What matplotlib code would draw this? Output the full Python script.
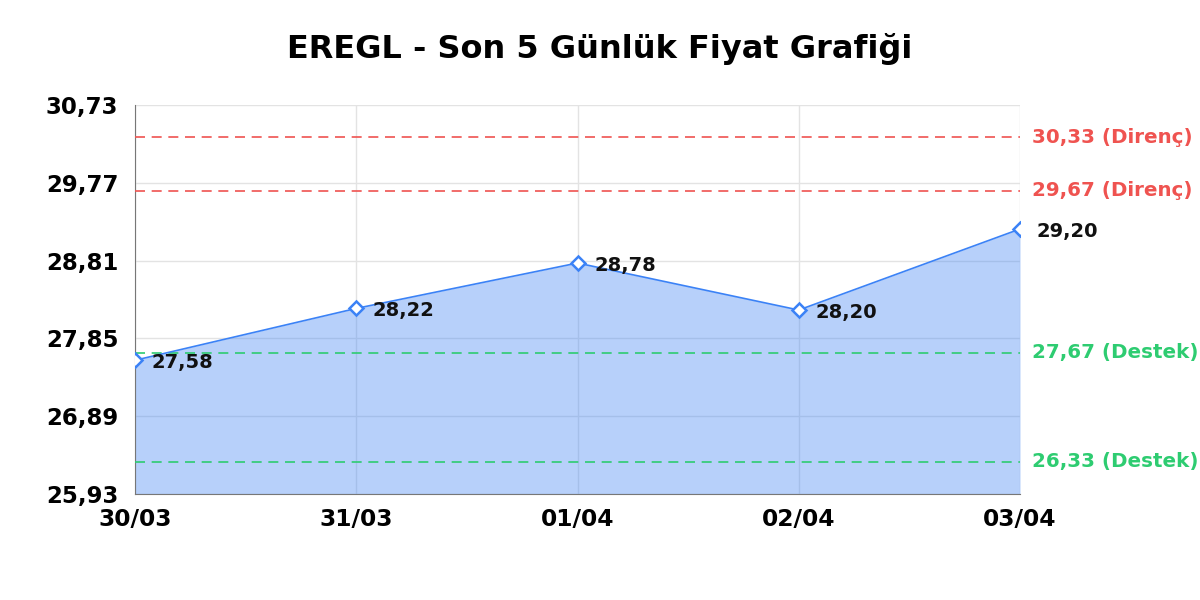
import os
import matplotlib
matplotlib.use("Agg")
import matplotlib.pyplot as plt
from matplotlib import font_manager
import numpy as np

bold_path = os.path.join(matplotlib.get_data_path(), "fonts", "ttf", "DejaVuSans-Bold.ttf")
font_manager.fontManager.addfont(bold_path)
plt.rcParams["font.family"] = ["DejaVu Sans"]

def fp(size):
    return font_manager.FontProperties(fname=bold_path, size=size)

# --- DATA ---
dates = ["30/03", "31/03", "01/04", "02/04", "03/04"]
prices = [27.58, 28.22, 28.78, 28.20, 29.20]
resistance = [30.33, 29.67]
support = [27.67, 26.33]
y_ticks = [25.93, 26.89, 27.85, 28.81, 29.77, 30.73]

BLUE = "#3b82f6"
RED = "#ef5350"
GREEN = "#2ecc71"

fig = plt.figure(figsize=(12, 6), dpi=100)
ax = fig.add_axes([0.1125, 0.1767, 0.7375, 0.6483])

x = np.arange(len(dates))

ax.fill_between(x, prices, y_ticks[0], color="#4285f4", alpha=0.38, lw=0, zorder=2)
ax.plot(x, prices, color=BLUE, lw=1.2, zorder=4)
ax.plot(x, prices, ls="none", marker="D", ms=7, mfc="white", mec=BLUE, mew=1.8, zorder=5)

for xi, p in zip(x, prices):
    ax.annotate(f"{p:.2f}".replace(".", ","), (xi, p), xytext=(12, -1.5),
                textcoords="offset points", ha="left", va="center",
                fontproperties=fp(14), color="#111111", zorder=6)

for lvl in resistance:
    ax.axhline(lvl, color=RED, ls=(0, (6, 4)), lw=1.2, zorder=3)
    ax.text(1.013, lvl, f"{lvl:.2f} (Direnç)".replace(".", ","), transform=ax.get_yaxis_transform(),
            ha="left", va="center", color=RED, fontproperties=fp(14.3))
for lvl in support:
    ax.axhline(lvl, color=GREEN, ls=(0, (6, 4)), lw=1.2, zorder=3)
    ax.text(1.013, lvl, f"{lvl:.2f} (Destek)".replace(".", ","), transform=ax.get_yaxis_transform(),
            ha="left", va="center", color=GREEN, fontproperties=fp(14.3))

ax.set_xlim(0, len(dates) - 1)
ax.set_ylim(y_ticks[0], y_ticks[-1])
ax.set_xticks(x)
ax.set_xticklabels(dates, fontproperties=fp(16.8))
ax.set_yticks(y_ticks)
ax.set_yticklabels([f"{t:.2f}".replace(".", ",") for t in y_ticks], fontproperties=fp(16.5))
ax.tick_params(length=0, pad=12)
ax.tick_params(axis="x", pad=10)

ax.grid(True, color="#e3e3e3", lw=1, zorder=1)
ax.set_axisbelow(True)
for s in ["top", "right"]:
    ax.spines[s].set_visible(False)
for s in ["left", "bottom"]:
    ax.spines[s].set_color("#777777")

fig.suptitle("EREGL - Son 5 Günlük Fiyat Grafiği", fontproperties=fp(23), y=0.945)

fig.savefig("out.png", dpi=100)
